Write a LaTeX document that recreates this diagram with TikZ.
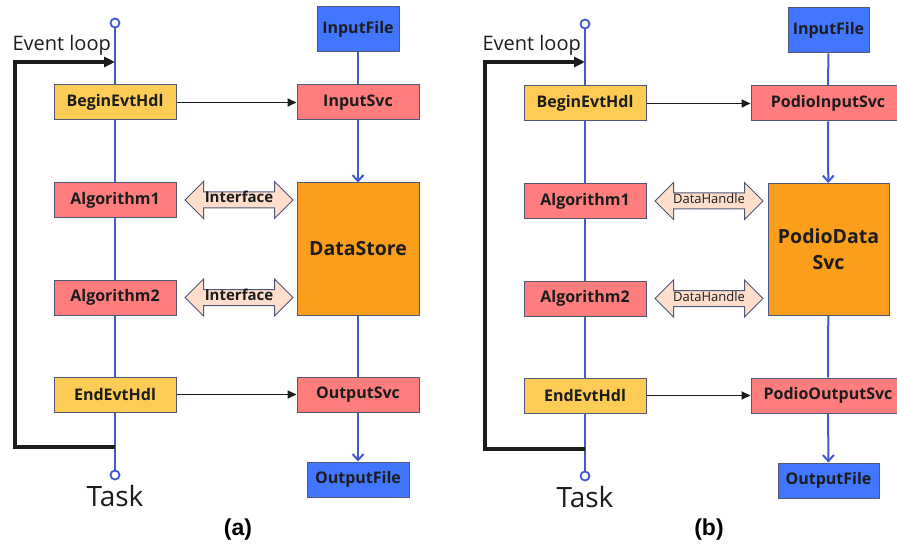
\documentclass[tikz,border=0pt]{standalone}
\usepackage{fontspec}
\setmainfont{Open Sans}
\newfontfamily\capfont{Liberation Sans}
\usetikzlibrary{arrows.meta,shapes.arrows}

\definecolor{hdlyellow}{RGB}{253,204,84}
\definecolor{svcred}{RGB}{255,125,125}
\definecolor{fileblue}{RGB}{66,118,255}
\definecolor{storeorange}{RGB}{250,158,27}
\definecolor{ifpeach}{RGB}{255,222,204}
\definecolor{edgegray}{RGB}{80,88,120}
\definecolor{flowblue}{RGB}{68,88,210}
\definecolor{inkblack}{RGB}{28,28,28}

\begin{document}
\begin{tikzpicture}[x=1pt,y=-1pt,
	box/.style={draw=edgegray,line width=1pt,minimum width=122pt,minimum height=35pt,
		inner sep=0pt,text=inkblack,font=\bfseries\fontsize{16}{18}\selectfont},
	hdl/.style={box,fill=hdlyellow},
	svc/.style={box,fill=svcred},
	datafile/.style={box,fill=fileblue},
	store/.style={box,fill=storeorange,minimum height=132pt,align=center,
		font=\bfseries\fontsize{19.5}{26}\selectfont},
	iface/.style={double arrow,draw=edgegray,fill=ifpeach,line width=1pt,
		minimum height=108pt,double arrow head extend=10.5pt,inner xsep=0pt,inner ysep=1.5pt,
		text height=9pt,text depth=3pt,text=inkblack},
	port/.style={circle,draw=flowblue,line width=1.8pt,fill=white,minimum size=9pt,inner sep=0pt},
	flow/.style={draw=flowblue,line width=2pt},
	flowto/.style={flow,-{Straight Barb[length=6pt,width=11pt]}},
	call/.style={draw=inkblack,line width=1.7pt,-{Triangle[length=9pt,width=8pt]}},
	evloop/.style={draw=inkblack,line width=3.2pt,-{Triangle[length=11pt,width=10pt]}},
	plain/.style={text=inkblack,font=\fontsize{20}{24}\selectfont},
	caption/.style={text=black,font=\capfont\bfseries\fontsize{23}{26}\selectfont}
	]
	\useasboundingbox (0,0) rectangle (897,548);

	% (a) task with Interface
	\node[port] (atop) at (115,23) {};
	\node[port] (abot) at (115,475) {};
	\draw[flow] (atop) -- (abot);
	\coordinate (aloopin) at (115,62);
	\coordinate (aloopout) at (115,447);
	\draw[evloop] (aloopout) -- ++(-100,0) |- (aloopin);
	\node[plain,anchor=west] (aloop) at (9,45) {Event loop};
	\node[plain,font=\fontsize{28}{32}\selectfont] (atask) at (115,496) {Task};

	\node[hdl] (abegin) at (115,102.5) {BeginEvtHdl};
	\node[svc] (aalg1) at (115,200) {Algorithm1};
	\node[svc] (aalg2) at (115,297.5) {Algorithm2};
	\node[hdl] (aend) at (115,394.5) {EndEvtHdl};

	\node[datafile,minimum width=82pt,minimum height=45pt] (ainfile) at (358,29.5) {InputFile};
	\node[svc] (ainsvc) at (358,102.5) {InputSvc};
	\node[store] (astore) at (358,249) {DataStore};
	\node[svc] (aoutsvc) at (358,394.5) {OutputSvc};
	\node[datafile,minimum width=102pt] (aoutfile) at (358,479.5) {OutputFile};

	\node[iface,font=\bfseries\fontsize{15}{16}\selectfont] (aif1) at (239,200) {Interface};
	\node[iface,font=\bfseries\fontsize{15}{16}\selectfont] (aif2) at (239,297.5) {Interface};

	\draw[flow] (ainfile) -- (ainsvc);
	\draw[flowto] (ainsvc) -- (astore);
	\draw[flow] (astore) -- (aoutsvc);
	\draw[flowto] (aoutsvc) -- (aoutfile);
	\draw[call] (abegin) -- (ainsvc);
	\draw[call] (aend) -- (aoutsvc);

	\node[caption] (acap) at (238,530) {(a)};

	% (b) task with DataHandle
	\node[port] (btop) at (585,24) {};
	\node[port] (bbot) at (585,476) {};
	\draw[flow] (btop) -- (bbot);
	\coordinate (bloopin) at (585,62);
	\coordinate (bloopout) at (585,449);
	\draw[evloop] (bloopout) -- ++(-100,0) |- (bloopin);
	\node[plain,anchor=west] (bloop) at (479,45) {Event loop};
	\node[plain,font=\fontsize{28}{32}\selectfont] (btask) at (585,497) {Task};

	\node[hdl] (bbegin) at (585,103.5) {BeginEvtHdl};
	\node[svc] (balg1) at (585,201) {Algorithm1};
	\node[svc] (balg2) at (585,298.5) {Algorithm2};
	\node[hdl] (bend) at (585,395.5) {EndEvtHdl};

	\node[datafile,minimum width=81pt,minimum height=45pt] (binfile) at (828.5,30.5) {InputFile};
	\node[svc,minimum width=154pt] (binsvc) at (828,103.5) {PodioInputSvc};
	\node[store,minimum width=121pt] (bstore) at (828.5,249.5) {PodioData\\Svc};
	\node[svc,minimum width=154pt] (boutsvc) at (828,395.5) {PodioOutputSvc};
	\node[datafile,minimum width=101pt] (boutfile) at (828.5,480.5) {OutputFile};

	\node[iface,font=\fontsize{13}{14}\selectfont] (bif1) at (709,201) {DataHandle};
	\node[iface,font=\fontsize{13}{14}\selectfont] (bif2) at (709,298.5) {DataHandle};

	\draw[flow] (binfile) -- (binsvc);
	\draw[flowto] (binsvc) -- (bstore);
	\draw[flow] (bstore) -- (boutsvc);
	\draw[flowto] (boutsvc) -- (boutfile);
	\draw[call] (bbegin) -- (binsvc);
	\draw[call] (bend) -- (boutsvc);

	\node[caption] (bcap) at (709,530) {(b)};
\end{tikzpicture}
\end{document}
